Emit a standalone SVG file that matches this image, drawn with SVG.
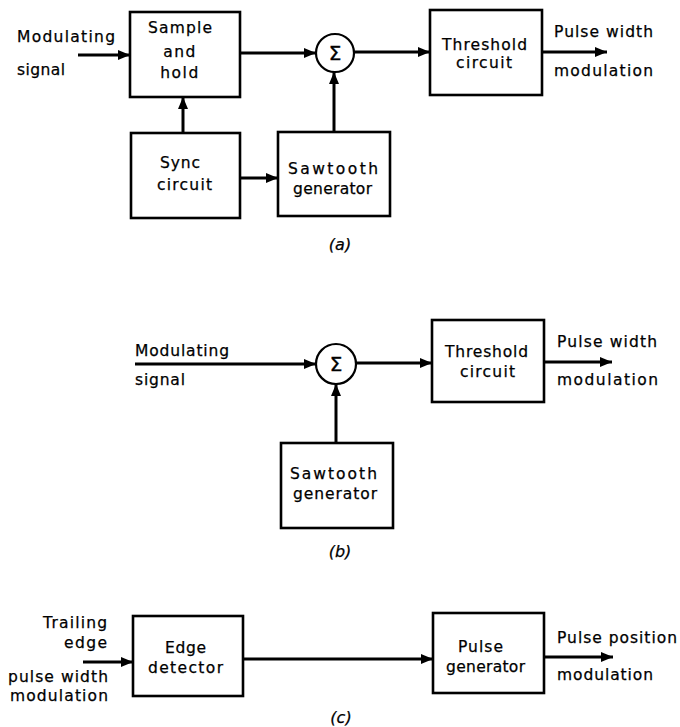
<svg xmlns="http://www.w3.org/2000/svg" width="680" height="727" viewBox="0 0 680 727">
<defs>
<marker id="ah" viewBox="0 0 12 10" refX="12" refY="5" markerWidth="12" markerHeight="10" markerUnits="userSpaceOnUse" orient="auto">
<path d="M0,0 L12,5 L0,10 Z" fill="#000"/>
</marker>
</defs>
<style>
.box{fill:#fff;stroke:#000;stroke-width:2.6}
.sum{fill:#fff;stroke:#000;stroke-width:2.2}
.c{fill:none;stroke:#000;stroke-width:3;marker-end:url(#ah)}
text{font-family:"DejaVu Sans","Liberation Sans",sans-serif;font-size:15.5px;fill:#000;stroke:#000;stroke-width:0.25}
.cap{font-style:italic;font-size:16px}
.sig{font-size:20px;stroke-width:0.4}
.mid{text-anchor:middle;letter-spacing:1.5px}
</style>
<rect width="680" height="727" fill="#fff"/>

<!-- (a) -->
<g id="a-input-label">
<text x="17" y="42" textLength="98" lengthAdjust="spacing">Modulating</text>
<text x="17" y="75" textLength="48" lengthAdjust="spacing">signal</text>
</g>
<g id="a-sample-hold">
<rect class="box" x="130" y="12" width="110" height="85"/>
<text x="148" y="33" textLength="64" lengthAdjust="spacing">Sample</text>
<text class="mid" x="180" y="57">and</text>
<text class="mid" x="180" y="78">hold</text>
</g>
<g id="a-sync">
<rect class="box" x="131" y="133" width="109" height="85"/>
<text x="160" y="168" textLength="40" lengthAdjust="spacing">Sync</text>
<text x="157" y="190" textLength="55" lengthAdjust="spacing">circuit</text>
</g>
<g id="a-sawtooth">
<rect class="box" x="278" y="132" width="112" height="84"/>
<text x="288" y="174" textLength="90" lengthAdjust="spacing">Sawtooth</text>
<text x="293" y="194" textLength="79" lengthAdjust="spacing">generator</text>
</g>
<g id="a-sum">
<circle class="sum" cx="335" cy="53" r="19"/>
<text class="sig" x="335" y="60" text-anchor="middle">Σ</text>
</g>
<g id="a-threshold">
<rect class="box" x="430" y="10" width="112" height="85"/>
<text x="442" y="50" textLength="85" lengthAdjust="spacing">Threshold</text>
<text x="456" y="68" textLength="56" lengthAdjust="spacing">circuit</text>
</g>
<g id="a-output-label">
<text x="554" y="37" textLength="99" lengthAdjust="spacing">Pulse width</text>
<text x="554" y="76" textLength="99" lengthAdjust="spacing">modulation</text>
</g>
<text class="cap" x="340" y="250" text-anchor="middle">(a)</text>

<!-- (b) -->
<g id="b-input-label">
<text x="135" y="356" textLength="94" lengthAdjust="spacing">Modulating</text>
<text x="135" y="385" textLength="50" lengthAdjust="spacing">signal</text>
</g>
<g id="b-sum">
<circle class="sum" cx="336" cy="364" r="20"/>
<text class="sig" x="336" y="371" text-anchor="middle">Σ</text>
</g>
<g id="b-threshold">
<rect class="box" x="432" y="320" width="112" height="82"/>
<text x="445" y="357" textLength="83" lengthAdjust="spacing">Threshold</text>
<text x="460" y="377" textLength="55" lengthAdjust="spacing">circuit</text>
</g>
<g id="b-sawtooth">
<rect class="box" x="281" y="443" width="112" height="85"/>
<text x="290" y="479" textLength="87" lengthAdjust="spacing">Sawtooth</text>
<text x="293" y="499" textLength="84" lengthAdjust="spacing">generator</text>
</g>
<g id="b-output-label">
<text x="557" y="347" textLength="100" lengthAdjust="spacing">Pulse width</text>
<text x="557" y="385" textLength="101" lengthAdjust="spacing">modulation</text>
</g>
<text class="cap" x="340" y="557" text-anchor="middle">(b)</text>

<!-- (c) -->
<g id="c-input-label">
<text x="107" y="628" text-anchor="end" textLength="64" lengthAdjust="spacing">Trailing</text>
<text x="107" y="648" text-anchor="end" textLength="43" lengthAdjust="spacing">edge</text>
<text x="108" y="682" text-anchor="end" textLength="100" lengthAdjust="spacing">pulse width</text>
<text x="108" y="701" text-anchor="end" textLength="98" lengthAdjust="spacing">modulation</text>
</g>
<g id="c-edge-detector">
<rect class="box" x="133" y="616" width="110" height="80"/>
<text x="165" y="653" textLength="41" lengthAdjust="spacing">Edge</text>
<text x="148" y="673" textLength="75" lengthAdjust="spacing">detector</text>
</g>
<g id="c-pulse-generator">
<rect class="box" x="433" y="613" width="111" height="80"/>
<text x="458" y="652" textLength="45" lengthAdjust="spacing">Pulse</text>
<text x="446" y="672" textLength="79" lengthAdjust="spacing">generator</text>
</g>
<g id="c-output-label">
<text x="557" y="643" textLength="120" lengthAdjust="spacing">Pulse position</text>
<text x="557" y="680" textLength="96" lengthAdjust="spacing">modulation</text>
</g>
<text class="cap" x="341" y="723" text-anchor="middle">(c)</text>

<g id="connectors">
<line class="c" x1="78" y1="55" x2="130" y2="55"/>
<line class="c" x1="240" y1="53" x2="316" y2="53"/>
<line class="c" x1="354" y1="52" x2="430" y2="52"/>
<line class="c" x1="542" y1="52" x2="607" y2="52"/>
<line class="c" x1="183" y1="133" x2="183" y2="97"/>
<line class="c" x1="240" y1="178" x2="278" y2="178"/>
<line class="c" x1="334" y1="132" x2="334" y2="72"/>

<line class="c" x1="135" y1="364" x2="316" y2="364"/>
<line class="c" x1="356" y1="363" x2="432" y2="363"/>
<line class="c" x1="544" y1="362" x2="612" y2="362"/>
<line class="c" x1="336" y1="443" x2="336" y2="384"/>

<line class="c" x1="83" y1="662" x2="133" y2="662"/>
<line class="c" x1="243" y1="659" x2="433" y2="659"/>
<line class="c" x1="544" y1="657" x2="613" y2="657"/>
</g>
</svg>
